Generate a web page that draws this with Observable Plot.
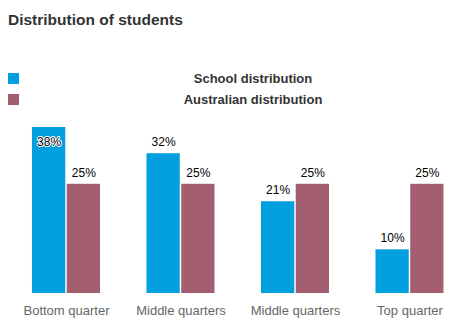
<!DOCTYPE html>
<html>
<head>
<meta charset="utf-8">
<script src="https://cdn.jsdelivr.net/npm/d3@7"></script>
<script src="https://cdn.jsdelivr.net/npm/@observablehq/plot@0.6"></script>
<style>
  html, body { margin: 0; padding: 0; background: #fff; }
  body { width: 458px; height: 325px; position: relative; overflow: hidden; font-family: "Liberation Sans", Arial, sans-serif; }
  #title { position: absolute; left: 8px; top: 12px; font-size: 15.5px; line-height: 1; font-weight: bold; color: #333; white-space: nowrap; }
  .lg-sw { position: absolute; left: 8px; width: 11px; height: 11px; }
  .lg-tx { position: absolute; left: 153px; width: 200px; text-align: center; font-size: 13px; line-height: 1; font-weight: bold; color: #333; white-space: nowrap; }
  #chart { position: absolute; left: 0; top: 112px; }
</style>
</head>
<body>
<div id="title">Distribution of students</div>
<div id="legend"></div>
<div id="chart"></div>
<script>
const categories = ["Bottom quarter", "Middle quarters ", "Middle quarters", "Top quarter"];
const categoryLabels = ["Bottom quarter", "Middle quarters", "Middle quarters", "Top quarter"];
const seriesNames = ["School distribution", "Australian distribution"];
const schoolValues = [38, 32, 21, 10];
const australianValues = [25, 25, 25, 25];
const seriesColors = ["#00A0DF", "#A35E6F"];

// legend
const legend = document.getElementById("legend");
seriesNames.forEach((name, i) => {
  const sw = document.createElement("div");
  sw.className = "lg-sw";
  sw.style.top = (73 + i * 21) + "px";
  sw.style.background = seriesColors[i];
  legend.appendChild(sw);
  const tx = document.createElement("div");
  tx.className = "lg-tx";
  tx.style.top = (71.5 + i * 21) + "px";
  tx.textContent = name;
  legend.appendChild(tx);
});

const data = [];
categories.forEach((c, i) => {
  data.push({category: c, series: seriesNames[0], value: schoolValues[i]});
  data.push({category: c, series: seriesNames[1], value: australianValues[i]});
});
const yMax = d3.max(data, d => d.value);
const fmt = d => d.value + "%";

const chart = Plot.plot({
  width: 458,
  height: 213,
  marginTop: 15,
  marginBottom: 32,
  marginLeft: 0,
  marginRight: 0,
  style: {fontFamily: "Liberation Sans, Arial, sans-serif", color: "#666", background: "#fff"},
  fx: {
    domain: categories,
    paddingInner: 0.406,
    paddingOuter: 0.203,
    align: 0.688,
    round: false,
    axis: "bottom",
    tickSize: 0,
    tickPadding: 12,
    label: null,
    tickFormat: c => categoryLabels[categories.indexOf(c)]
  },
  x: {domain: seriesNames, paddingInner: 0.043, paddingOuter: 0, round: false, axis: null},
  y: {domain: [0, yMax], axis: null},
  color: {domain: seriesNames, range: seriesColors},
  marks: [
    Plot.barY(data, {fx: "category", x: "series", y: "value", fill: "series"}),
    Plot.text(data.filter(d => d.value < yMax), {
      fx: "category", x: "series", y: "value", text: fmt,
      lineAnchor: "bottom", dy: -7.5, fill: "#000", fontSize: 12
    }),
    Plot.text(data.filter(d => d.value >= yMax), {
      fx: "category", x: "series", y: "value", text: fmt,
      lineAnchor: "top", dy: 10, fill: "#000", stroke: "#fff", strokeWidth: 2, fontSize: 12
    })
  ]
});
chart.querySelectorAll("[aria-label='fx-axis tick label'] text, g[aria-label^='fx-axis'] text").forEach(t => t.setAttribute("font-size", "13"));
document.getElementById("chart").appendChild(chart);
</script>
</body>
</html>
